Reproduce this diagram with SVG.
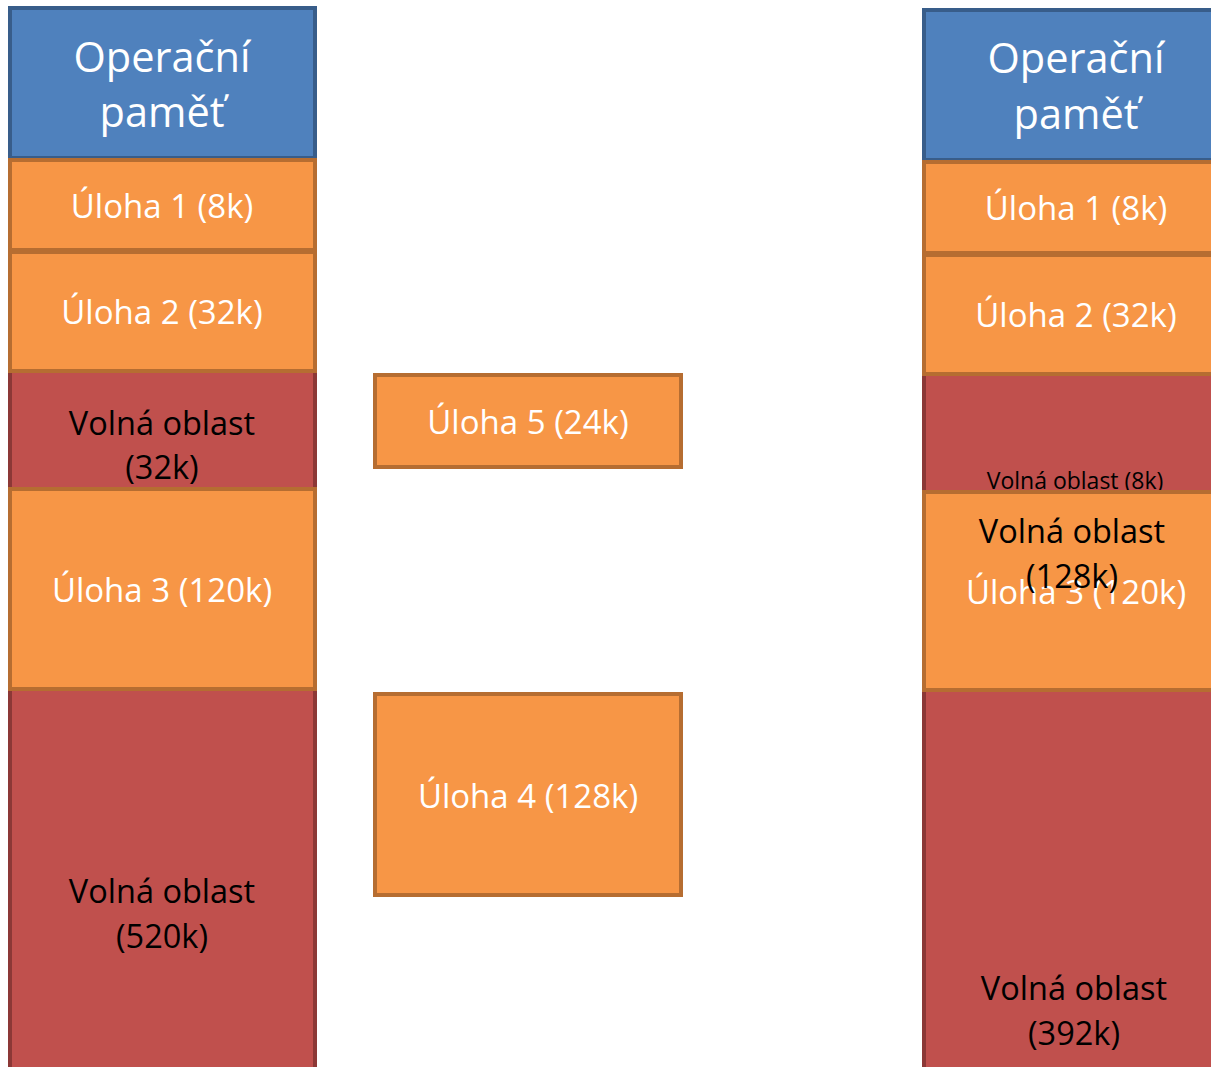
<svg xmlns="http://www.w3.org/2000/svg" width="1211" height="1067" viewBox="0 0 1211 1067">
<style>
.blue{fill:#4f81bd;stroke:#385d8a;stroke-width:4}
.task{fill:#f79646;stroke:#b66d31;stroke-width:4}
.free{fill:#c0504d;stroke:#8c3836;stroke-width:4}
text{font-family:"Open Sans","Noto Sans","Liberation Sans",sans-serif;text-anchor:middle}
.hdr{font-size:41.5px;fill:#fff}
.w{font-size:33px;fill:#fff}
.k{font-size:32.5px;fill:#000}
.ks{font-size:23px;fill:#000}
</style>
<rect width="1211" height="1067" fill="#fff"/>
<g id="left-column">
  <g id="l-free-32"><rect class="free" x="10" y="371" width="305" height="330"/></g>
  <g id="l-free-520"><rect class="free" x="10" y="689" width="305" height="450"/>
    <text class="k" x="162" y="903">Volná oblast</text><text class="k" x="162" y="948">(520k)</text></g>
  <g id="l-free-32-label"><text class="k" x="162" y="435">Volná oblast</text><text class="k" x="162" y="479">(32k)</text></g>
  <g id="l-mem"><rect class="blue" x="10" y="8" width="305" height="150"/>
    <text class="hdr" x="162" y="72">Operační</text><text class="hdr" x="162" y="127">paměť</text></g>
  <g id="l-task1"><rect class="task" x="10" y="160" width="305" height="90"/><text class="w" x="162" y="218">Úloha 1 (8k)</text></g>
  <g id="l-task2"><rect class="task" x="10" y="252" width="305" height="119"/><text class="w" x="162" y="324">Úloha 2 (32k)</text></g>
  <g id="l-task3"><rect class="task" x="10" y="489" width="305" height="200"/><text class="w" x="162" y="602">Úloha 3 (120k)</text></g>
</g>
<g id="middle">
  <g id="task5"><rect class="task" x="375" y="375" width="306" height="92"/><text class="w" x="528" y="434">Úloha 5 (24k)</text></g>
  <g id="task4"><rect class="task" x="375" y="694" width="306" height="201"/><text class="w" x="528" y="808">Úloha 4 (128k)</text></g>
</g>
<g id="right-column">
  <g id="r-free-8"><rect class="free" x="924" y="374" width="305" height="330"/></g>
  <g id="r-free-392"><rect class="free" x="924" y="690" width="305" height="450"/>
    <text class="k" x="1074" y="1000">Volná oblast</text><text class="k" x="1074" y="1045">(392k)</text></g>
  <g id="r-mem"><rect class="blue" x="924" y="10" width="305" height="150"/>
    <text class="hdr" x="1076" y="73">Operační</text><text class="hdr" x="1076" y="129">paměť</text></g>
  <g id="r-task1"><rect class="task" x="924" y="162" width="305" height="91"/><text class="w" x="1076" y="220">Úloha 1 (8k)</text></g>
  <g id="r-task2"><rect class="task" x="924" y="255" width="305" height="119"/><text class="w" x="1076" y="327">Úloha 2 (32k)</text></g>
  <g id="r-free-8-label"><text class="ks" x="1075" y="489">Volná oblast (8k)</text></g>
  <g id="r-task3"><rect class="task" x="924" y="492" width="305" height="198"/><text class="w" x="1076" y="604">Úloha 3 (120k)</text>
    <text class="k" x="1072" y="543">Volná oblast</text><text class="k" x="1072" y="588">(128k)</text></g>
</g>
</svg>
